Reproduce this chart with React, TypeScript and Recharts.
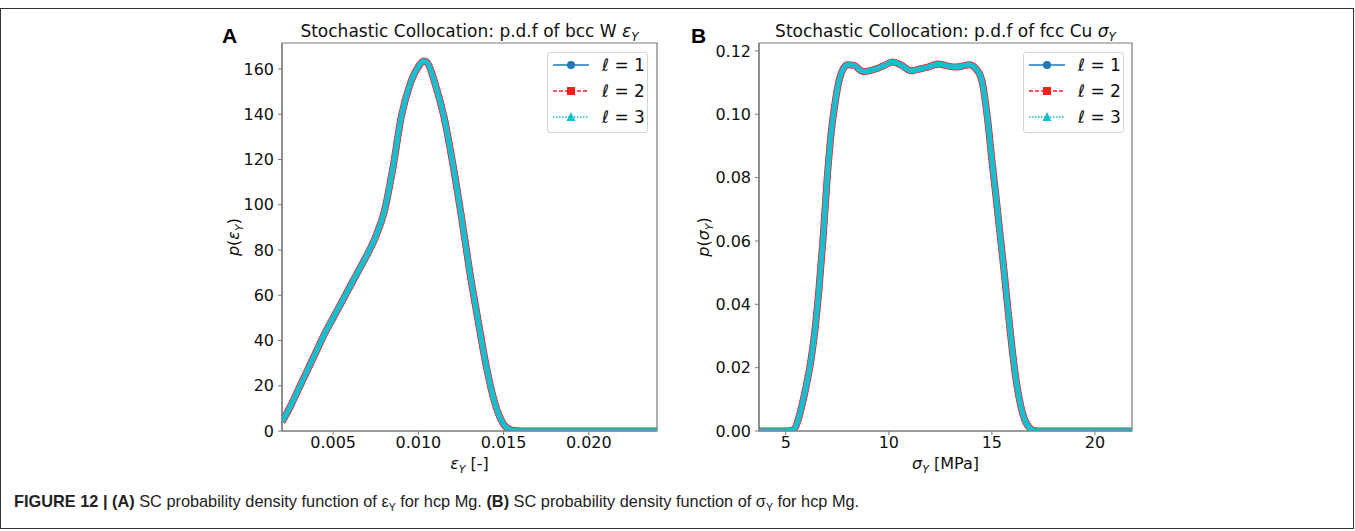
import React from 'react';
import { LineChart, Line, XAxis, YAxis, ReferenceArea } from 'recharts';

// ---------- data ----------
const epsA = [0.002, 0.0025, 0.003, 0.0035, 0.004, 0.0045, 0.005, 0.0055, 0.006, 0.0065, 0.007, 0.0075, 0.008, 0.0085, 0.009, 0.0095, 0.01, 0.0103, 0.0105, 0.011, 0.0115, 0.012, 0.0125, 0.013, 0.0135, 0.014, 0.0145, 0.015, 0.0155, 0.016, 0.024];
const pdfA = [4, 11, 19, 27, 35, 43, 50, 57, 64, 71, 78, 86, 97, 116, 139, 153, 161, 163.5, 163, 153, 139, 119, 96, 71, 49, 28, 12, 3, 0.3, 0, 0];

const sigB = [3.7, 5.0, 5.4, 5.6, 5.8, 6.0, 6.2, 6.4, 6.6, 6.8, 7.0, 7.2, 7.4, 7.6, 7.8, 8.0, 8.3, 8.6, 8.8, 9.1, 9.5, 9.8, 10.2, 10.6, 11.1, 11.5, 11.8, 12.4, 12.8, 13.3, 13.9, 14.2, 14.5, 14.8, 15.0, 15.2, 15.4, 15.6, 15.8, 16.0, 16.2, 16.4, 16.6, 16.8, 17.0, 17.2, 21.8];
const pdfB = [0, 0, 0.0005, 0.0035, 0.0085, 0.0145, 0.0215, 0.031, 0.044, 0.06, 0.079, 0.094, 0.104, 0.111, 0.1145, 0.1156, 0.1155, 0.114, 0.1134, 0.1138, 0.1146, 0.1155, 0.1165, 0.1155, 0.1137, 0.1143, 0.1147, 0.1159, 0.1153, 0.1149, 0.1156, 0.1146, 0.111, 0.098, 0.0856, 0.074, 0.062, 0.05, 0.037, 0.025, 0.015, 0.008, 0.0035, 0.0012, 0.0002, 0, 0];

const levelNames = ['1', '2', '3'];
const levelColors = ['#1f77b4', '#ff1a1a', '#17becf'];

const ticksAx = [0.005, 0.01, 0.015, 0.02];
const ticksAy = [0, 20, 40, 60, 80, 100, 120, 140, 160];
const ticksBx = [5, 10, 15, 20];
const ticksBy = [0, 0.02, 0.04, 0.06, 0.08, 0.1, 0.12];

const dataA = epsA.map((x, i) => ({ x, l1: pdfA[i], l2: pdfA[i], l3: pdfA[i] }));
const dataB = sigB.map((x, i) => ({ x, l1: pdfB[i], l2: pdfB[i], l3: pdfB[i] }));

const FONT = '"DejaVu Sans", sans-serif';
const AX = '#7a7a7a';
const TXT = '#111';

function makeYLabel(sym: string, off: number) {
  return (props: any) => {
    const vb = props.viewBox || {};
    const cx = vb.x + vb.width - off;
    const cy = vb.y + vb.height / 2;
    return (
      <text x={cx} y={cy} dy="0.35em" transform={`rotate(-90 ${cx} ${cy})`} textAnchor="middle" fontSize={16} fontFamily={FONT} fill={TXT}>
        <tspan fontStyle="italic">p</tspan>(<tspan fontStyle="italic">{sym}</tspan>
        <tspan fontStyle="italic" fontSize={11} dy={4}>Y</tspan>
        <tspan dy={-4}>)</tspan>
      </text>
    );
  };
}

function makeXLabel(sym: string, unit: string) {
  return (props: any) => {
    const vb = props.viewBox || {};
    const cx = vb.x + vb.width / 2;
    const cy = vb.y + 38;
    return (
      <text x={cx} y={cy} textAnchor="middle" fontSize={16} fontFamily={FONT} fill={TXT}>
        <tspan fontStyle="italic">{sym}</tspan>
        <tspan fontStyle="italic" fontSize={11} dy={4}>Y</tspan>
        <tspan dy={-4}>{' ' + unit}</tspan>
      </text>
    );
  };
}

function Panel(props: {
  data: any[]; xDomain: [number, number]; yDomain: [number, number];
  xTicks: number[]; yTicks: number[]; xFmt: (v: number) => string; yFmt: (v: number) => string;
  margin: any; xLabel: any; yLabel: any;
}) {
  const tickStyle = { fontSize: 16, fill: TXT, fontFamily: FONT };
  return (
    <LineChart width={480} height={480} data={props.data} margin={props.margin}>
      <XAxis dataKey="x" type="number" domain={props.xDomain} ticks={props.xTicks} allowDataOverflow
        tickFormatter={props.xFmt} tick={tickStyle} tickSize={4} tickMargin={2}
        axisLine={{ stroke: AX, strokeWidth: 1.2 }} tickLine={{ stroke: AX }} height={49} label={props.xLabel} />
      <YAxis type="number" domain={props.yDomain} ticks={props.yTicks} allowDataOverflow
        tickFormatter={props.yFmt} tick={tickStyle} tickSize={4} tickMargin={4}
        axisLine={{ stroke: AX, strokeWidth: 1.2 }} tickLine={{ stroke: AX }} width={60} label={props.yLabel} />
      <ReferenceArea x1={props.xDomain[0]} x2={props.xDomain[1]} y1={props.yDomain[0]} y2={props.yDomain[1]}
        fill="none" fillOpacity={0} stroke={AX} strokeWidth={1.2} ifOverflow="visible" />
      <Line dataKey="l1" name={levelNames[0]} type="monotone" stroke={levelColors[0]} strokeWidth={6} dot={false} isAnimationActive={false} />
      <Line dataKey="l2" name={levelNames[1]} type="monotone" stroke={levelColors[1]} strokeWidth={7} dot={false} isAnimationActive={false} />
      <Line dataKey="l3" name={levelNames[2]} type="monotone" stroke={levelColors[2]} strokeWidth={5.5} dot={false} isAnimationActive={false} />
    </LineChart>
  );
}

function Title({ left, width, prefix, sym }: { left: number; width: number; prefix: string; sym: string }) {
  return (
    <svg width={width} height={44} style={{ position: 'absolute', left, top: 0 }}>
      <text x={width / 2} y={37} textAnchor="middle" fontSize={17} fontFamily={FONT} fill={TXT}>
        {prefix}
        <tspan fontStyle="italic">{sym}</tspan>
        <tspan fontStyle="italic" fontSize={12} dy={4}>Y</tspan>
      </text>
    </svg>
  );
}

function LegendBox({ left, top }: { left: number; top: number }) {
  const rows = [13, 39, 65];
  const dashes = [undefined, '4 2', '1.5 1.5'];
  return (
    <div style={{ position: 'absolute', left, top, width: 101, height: 81, boxSizing: 'border-box', border: '1px solid #d6d6d6', borderRadius: 3, background: 'rgba(255,255,255,0.85)' }}>
      <svg width={101} height={81} style={{ position: 'absolute', left: -1, top: -1 }}>
        {levelNames.map((n, i) => {
          const y = rows[i];
          const c = levelColors[i];
          return (
            <g key={n}>
              <line x1={6} x2={42} y1={y} y2={y} stroke={c} strokeWidth={1.5} strokeDasharray={dashes[i]} />
              {i === 0 && <circle cx={24} cy={y} r={4} fill={c} />}
              {i === 1 && <rect x={20} y={y - 4} width={8} height={8} fill={c} />}
              {i === 2 && <polygon points={`24,${y - 5} 28.5,${y + 4} 19.5,${y + 4}`} fill={c} />}
              <text x={55} y={y + 6} fontSize={17} fontFamily={FONT} fill={TXT}>
                <tspan fontStyle="italic">ℓ</tspan>{' = ' + n}
              </text>
            </g>
          );
        })}
      </svg>
    </div>
  );
}

export default function App() {
  return (
    <div style={{ position: 'absolute', left: 0, top: 0, width: 1355, height: 531, background: '#fff', fontFamily: FONT, overflow: 'hidden' }}>
      <div style={{ position: 'absolute', left: 0, top: 8, width: 1354, height: 521, boxSizing: 'border-box', border: '1.5px solid #333' }} />
      <div style={{ position: 'absolute', left: 200, top: 0 }}>
        <Panel data={dataA} xDomain={[0.002, 0.024]} yDomain={[0, 171.5]} xTicks={ticksAx} yTicks={ticksAy}
          xFmt={(v) => v.toFixed(3)} yFmt={(v) => String(v)}
          margin={{ top: 43, right: 23, bottom: 0, left: 22 }}
          xLabel={makeXLabel('ε', '[-]')} yLabel={makeYLabel('ε', 49)} />
      </div>
      <div style={{ position: 'absolute', left: 680, top: 0 }}>
        <Panel data={dataB} xDomain={[3.7, 21.8]} yDomain={[0, 0.1225]} xTicks={ticksBx} yTicks={ticksBy}
          xFmt={(v) => String(v)} yFmt={(v) => v.toFixed(2)}
          margin={{ top: 43, right: 28, bottom: 0, left: 19 }}
          xLabel={makeXLabel('σ', '[MPa]')} yLabel={makeYLabel('σ', 56)} />
      </div>
      <Title left={282} width={375} prefix="Stochastic Collocation: p.d.f of bcc W " sym="ε" />
      <Title left={759} width={373} prefix="Stochastic Collocation: p.d.f of fcc Cu " sym="σ" />
      <LegendBox left={547} top={52} />
      <LegendBox left={1023} top={52} />
      <div style={{ position: 'absolute', left: 222, top: 24, fontFamily: '"Liberation Sans", Arial, sans-serif', fontWeight: 'bold', fontSize: 21 }}>A</div>
      <div style={{ position: 'absolute', left: 691, top: 24, fontFamily: '"Liberation Sans", Arial, sans-serif', fontWeight: 'bold', fontSize: 21 }}>B</div>
      <div style={{ position: 'absolute', left: 14, top: 492, fontFamily: '"Liberation Sans Narrow", "Liberation Sans", Arial, sans-serif', fontSize: 17, color: '#222', whiteSpace: 'nowrap', transform: 'scaleX(0.96)', transformOrigin: 'left top' }}>
        <b>FIGURE 12 | (A)</b> SC probability density function of ε<sub style={{ fontSize: 11 }}>Y</sub> for hcp Mg. <b>(B)</b> SC probability density function of σ<sub style={{ fontSize: 11 }}>Y</sub> for hcp Mg.
      </div>
    </div>
  );
}
